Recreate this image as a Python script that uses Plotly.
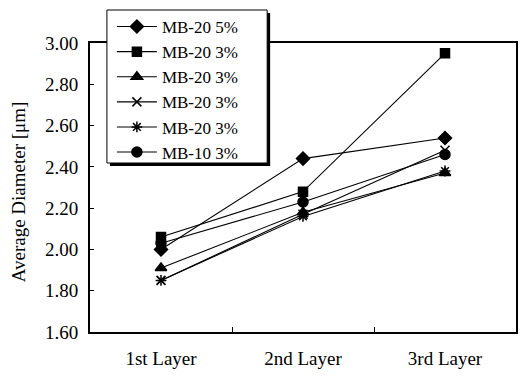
import plotly.graph_objects as go

categories = ["1st Layer", "2nd Layer", "3rd Layer"]
names = ["MB-20 5%", "MB-20 3%", "MB-20 3%", "MB-20 3%", "MB-20 3%", "MB-10 3%"]
s_diamond = [2.00, 2.44, 2.54]
s_square = [2.06, 2.28, 2.95]
s_triangle = [1.91, 2.18, 2.37]
s_x = [1.85, 2.17, 2.48]
s_asterisk = [1.85, 2.16, 2.38]
s_circle = [2.03, 2.23, 2.46]
y_ticks = [1.60, 1.80, 2.00, 2.20, 2.40, 2.60, 2.80, 3.00]

series = [s_diamond, s_square, s_triangle, s_x, s_asterisk, s_circle]
symbols = ["diamond", "square", "triangle-up", "x-thin-open", "asterisk-open", "circle"]
sizes = [10, 9, 10, 9, 9, 10]

FONT = "Liberation Serif"
fig = go.Figure()
for name, vals, sym, sz in zip(names, series, symbols, sizes):
    fig.add_trace(go.Scatter(
        x=categories, y=vals, name=name, mode="lines+markers",
        line=dict(color="black", width=1.1),
        marker=dict(symbol=sym, size=sz, color="black",
                    line=dict(color="black", width=1.5)),
    ))

W, H = 522, 381
L, R, T, B = 90, 4, 43, 49
pw, ph = W - L - R, H - T - B

def px(xp):
    return (xp - L) / pw

def py(yp):
    return (H - B - yp) / ph

# legend shadow and box
fig.add_shape(type="rect", xref="paper", yref="paper",
              x0=px(110), x1=px(271), y0=py(166), y1=py(13),
              fillcolor="black", line=dict(width=0), layer="above")
fig.add_shape(type="rect", xref="paper", yref="paper",
              x0=px(107), x1=px(268), y0=py(163), y1=py(10),
              fillcolor="white", line=dict(color="black", width=1), layer="above")

fig.add_annotation(text="Average Diameter [μm]", xref="paper", yref="paper",
                   x=px(18), y=py(192), textangle=-90, showarrow=False,
                   xanchor="center", yanchor="middle",
                   font=dict(family=FONT, size=19, color="black"))

fig.update_layout(
    width=W, height=H,
    margin=dict(l=L, r=R, t=T, b=B),
    paper_bgcolor="white", plot_bgcolor="white",
    font=dict(family=FONT, size=18, color="black"),
    showlegend=True,
    legend=dict(x=px(112), y=py(9), xanchor="left", yanchor="top",
                bgcolor="rgba(0,0,0,0)", borderwidth=0,
                font=dict(family=FONT, size=17, color="black"),
                itemwidth=40, tracegroupgap=0),
    xaxis=dict(type="category", range=[-0.5, 2.5], showline=True,
               linecolor="black", linewidth=2,
               mirror=True, ticks="inside", ticklen=5, tickcolor="black",
               tickson="boundaries", showgrid=False, ticklabelstandoff=8,
               tickfont=dict(family=FONT, size=19, color="black")),
    yaxis=dict(range=[1.60, 3.00], tickvals=y_ticks,
               ticktext=[f"{v:.2f}" for v in y_ticks],
               showline=True, linecolor="black", linewidth=2, mirror=True,
               ticks="inside", ticklen=4, tickcolor="black", showgrid=False,
               zeroline=False, ticklabelstandoff=6,
               tickfont=dict(family=FONT, size=19, color="black")),
)

fig.write_html("out.html")
